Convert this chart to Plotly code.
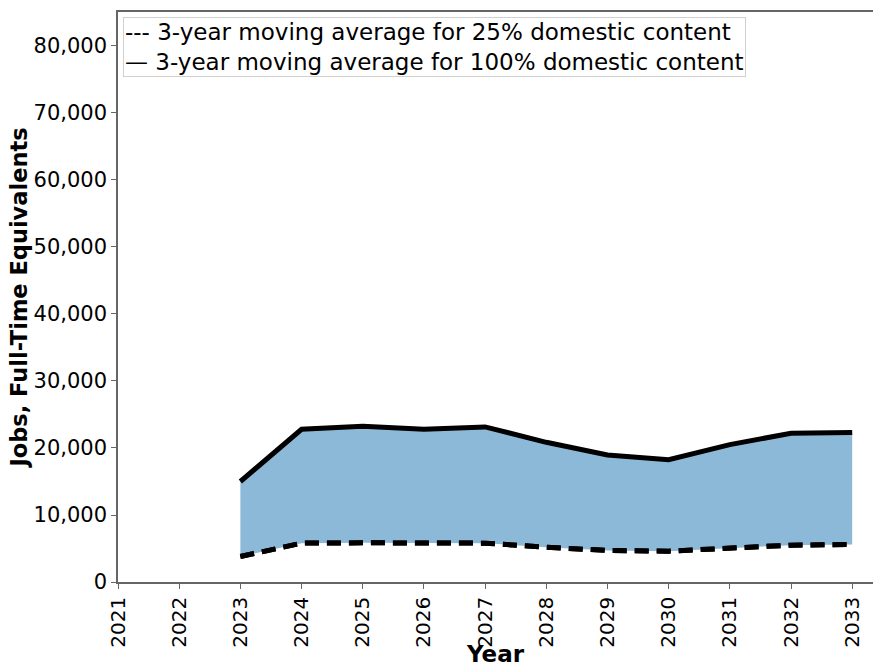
import plotly.graph_objects as go

# Three-year moving averages of full-time-equivalent jobs
years = [2023, 2024, 2025, 2026, 2027, 2028, 2029, 2030, 2031, 2032, 2033]
jobs_25pct = [3800, 5800, 5850, 5750, 5800, 5200, 4700, 4600, 5100, 5500, 5600]
jobs_100pct = [15000, 22800, 23250, 22800, 23150, 20850, 18950, 18250, 20500, 22200, 22300]

tick_years = list(range(2021, 2034))
y_ticks = list(range(0, 90000, 10000))

dash_style = "14px,8px"

fig = go.Figure()

fig.add_trace(go.Scatter(
    x=years, y=jobs_25pct, mode="lines",
    line=dict(color="black", width=5, dash=dash_style),
    name="3-year moving average for 25% domestic content",
    showlegend=False,
))
fig.add_trace(go.Scatter(
    x=years, y=jobs_100pct, mode="lines",
    line=dict(color="black", width=5),
    fill="tonexty", fillcolor="rgba(141,185,216,1)",
    name="3-year moving average for 100% domestic content",
    showlegend=False,
))
# redraw the dashed line on top of the fill
fig.add_trace(go.Scatter(
    x=years, y=jobs_25pct, mode="lines",
    line=dict(color="black", width=5, dash=dash_style),
    showlegend=False, hoverinfo="skip",
))

fig.add_annotation(
    xref="paper", yref="paper", x=0.006, y=0.992,
    xanchor="left", yanchor="top", align="left",
    text="--- 3-year moving average for 25% domestic content<br>"
         "— 3-year moving average for 100% domestic content",
    showarrow=False,
    font=dict(family="DejaVu Sans", size=23, color="black"),
    bordercolor="#d0d0d0", borderwidth=1, borderpad=1,
    bgcolor="white",
)

fig.update_layout(
    width=873, height=667,
    margin=dict(l=118, r=0, t=12, b=85),
    plot_bgcolor="white", paper_bgcolor="white",
    font=dict(family="DejaVu Sans", color="black"),
    xaxis=dict(
        range=[2021, 2033.34],
        tickmode="array", tickvals=tick_years,
        ticktext=[str(y) for y in tick_years],
        tickangle=-90,
        tickfont=dict(size=20),
        ticks="outside", ticklen=5, tickcolor="#666",
        showline=True, linecolor="#666", linewidth=1.5, mirror=True,
        showgrid=False, zeroline=False,
        title=dict(text="<b>Year</b>", font=dict(size=23), standoff=2),
    ),
    yaxis=dict(
        range=[0, 85070],
        tickmode="array", tickvals=y_ticks,
        ticktext=[f"{v:,}" for v in y_ticks],
        tickfont=dict(size=21),
        ticks="outside", ticklen=5, tickcolor="#666",
        showline=True, linecolor="#666", linewidth=1.5,
        showgrid=False, zeroline=False,
        title=dict(text="<b>Jobs, Full-Time Equivalents</b>", font=dict(size=22.5), standoff=0),
    ),
)

fig.write_html("out.html")
